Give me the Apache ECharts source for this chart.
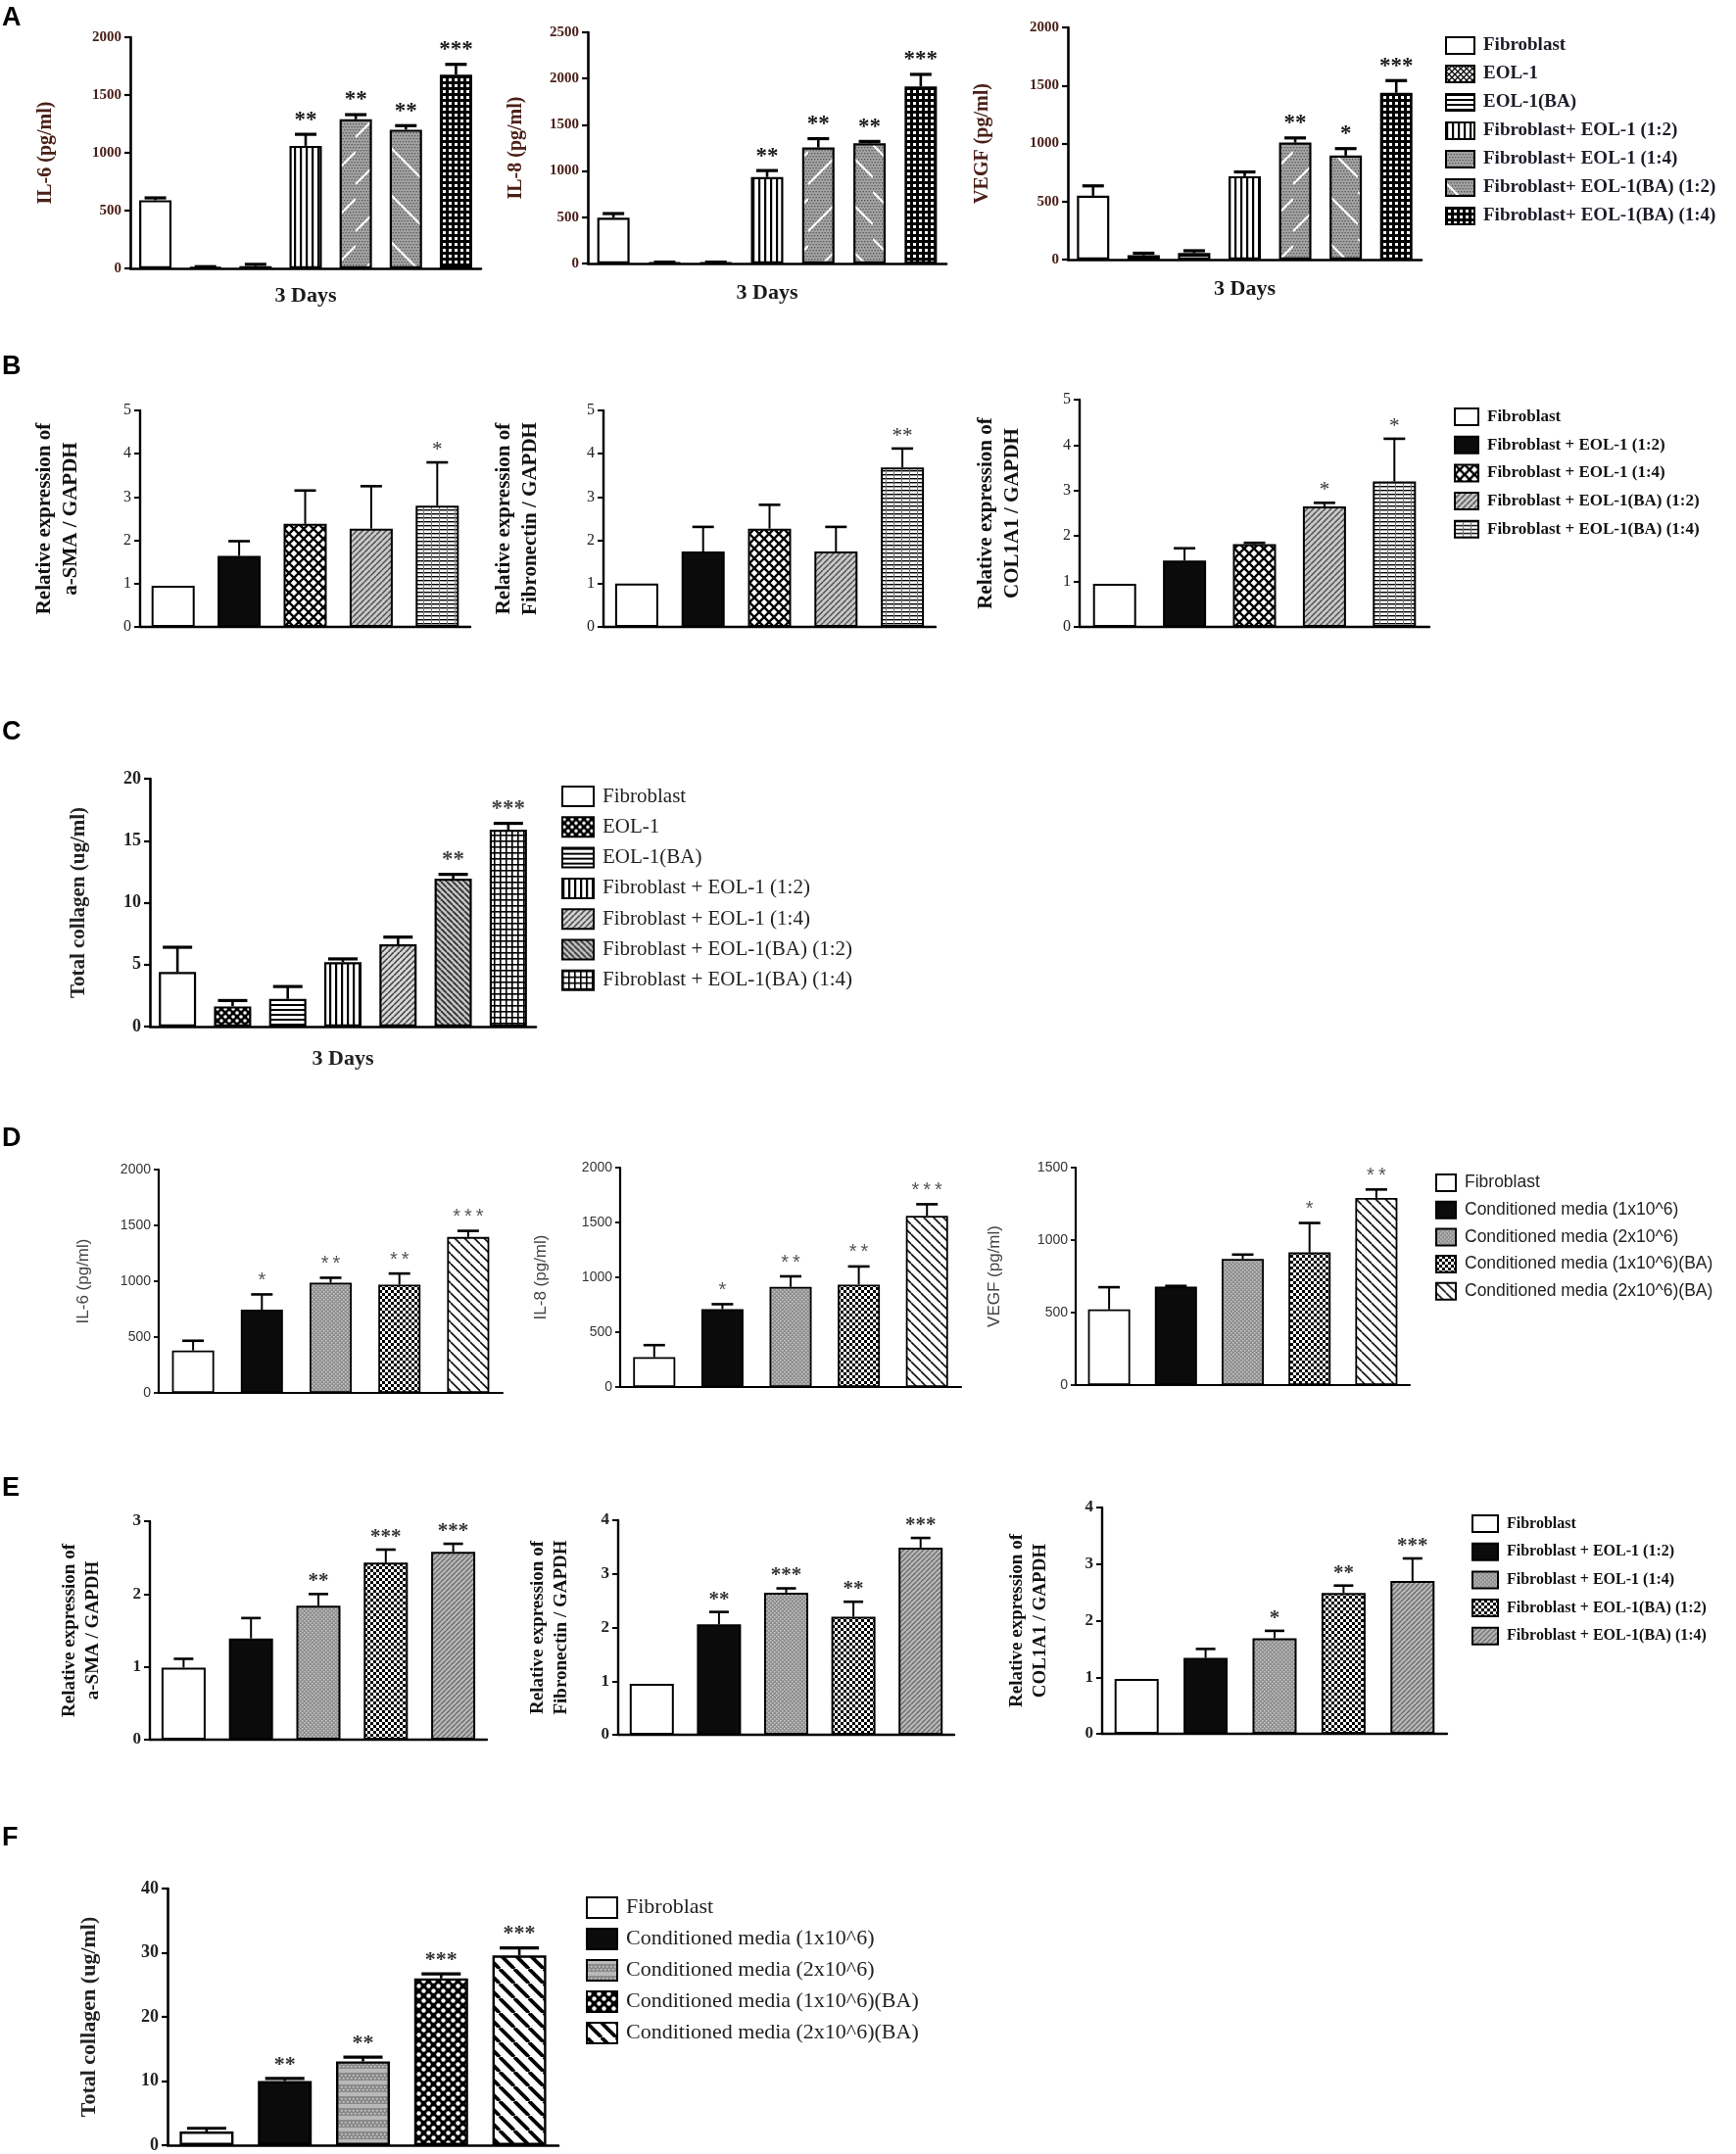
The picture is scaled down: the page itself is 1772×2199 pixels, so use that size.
<!DOCTYPE html>
<html>
<head>
<meta charset="utf-8">
<title>Cytokines, fibrosis markers and collagen</title>
<script src="https://cdn.jsdelivr.net/npm/echarts@6/dist/echarts.min.js"></script>
<style>
  html, body { margin: 0; padding: 0; background: #fff; }
  #chart { width: 1772px; height: 2199px; }
</style>
</head>
<body>
<div id="chart"></div>
<script>
// ---------- data ----------
const catsA = ['Fibroblast', 'EOL-1', 'EOL-1(BA)', 'Fibroblast+ EOL-1 (1:2)', 'Fibroblast+ EOL-1 (1:4)', 'Fibroblast+ EOL-1(BA) (1:2)', 'Fibroblast+ EOL-1(BA) (1:4)'];
const il6A = [590, 10, 20, 1060, 1290, 1200, 1675];
const il6AErr = [20, 5, 15, 100, 40, 35, 90];
const il6AStars = ['', '', '', '**', '**', '**', '***'];
const il8A = [495, 10, 10, 935, 1255, 1300, 1915];
const il8AErr = [45, 5, 5, 70, 95, 20, 130];
const il8AStars = ['', '', '', '**', '**', '**', '***'];
const vegfA = [550, 37, 56, 718, 1008, 896, 1437];
const vegfAErr = [85, 18, 20, 37, 40, 60, 105];
const vegfAStars = ['', '', '', '', '**', '*', '***'];

const catsB = ['Fibroblast', 'Fibroblast + EOL-1 (1:2)', 'Fibroblast + EOL-1 (1:4)', 'Fibroblast + EOL-1(BA) (1:2)', 'Fibroblast + EOL-1(BA) (1:4)'];
const smaB = [0.95, 1.64, 2.38, 2.27, 2.8];
const smaBErr = [0, 0.34, 0.77, 0.98, 1.0];
const smaBStars = ['', '', '', '', '*'];
const fnB = [1.0, 1.74, 2.27, 1.74, 3.68];
const fnBErr = [0, 0.57, 0.55, 0.57, 0.44];
const fnBStars = ['', '', '', '', '**'];
const colB = [0.95, 1.46, 1.82, 2.65, 3.2];
const colBErr = [0, 0.27, 0.03, 0.08, 0.94];
const colBStars = ['', '', '', '*', '*'];

const catsC = ['Fibroblast', 'EOL-1', 'EOL-1(BA)', 'Fibroblast + EOL-1 (1:2)', 'Fibroblast + EOL-1 (1:4)', 'Fibroblast + EOL-1(BA) (1:2)', 'Fibroblast + EOL-1(BA) (1:4)'];
const collagenC = [4.4, 1.63, 2.23, 5.2, 6.64, 11.94, 15.88];
const collagenCErr = [2.0, 0.47, 1.0, 0.26, 0.58, 0.34, 0.52];
const collagenCStars = ['', '', '', '', '', '**', '***'];

const catsD = ['Fibroblast', 'Conditioned media (1x10^6)', 'Conditioned media (2x10^6)', 'Conditioned media (1x10^6)(BA)', 'Conditioned media (2x10^6)(BA)'];
const il6D = [380, 745, 987, 969, 1396];
const il6DErr = [87, 137, 44, 100, 55];
const il6DStars = ['', '*', '**', '**', '***'];
const il8D = [272, 710, 913, 934, 1561];
const il8DErr = [110, 45, 96, 165, 105];
const il8DStars = ['', '*', '**', '**', '***'];
const vegfD = [522, 679, 870, 915, 1291];
const vegfDErr = [153, 5, 30, 203, 58];
const vegfDStars = ['', '', '', '*', '**'];

const catsE = ['Fibroblast', 'Fibroblast + EOL-1 (1:2)', 'Fibroblast + EOL-1 (1:4)', 'Fibroblast + EOL-1(BA) (1:2)', 'Fibroblast + EOL-1(BA) (1:4)'];
const smaE = [0.99, 1.39, 1.84, 2.43, 2.58];
const smaEErr = [0.12, 0.28, 0.16, 0.18, 0.11];
const smaEStars = ['', '', '**', '***', '***'];
const fnE = [0.95, 2.06, 2.65, 2.2, 3.49];
const fnEErr = [0, 0.23, 0.08, 0.28, 0.18];
const fnEStars = ['', '**', '***', '**', '***'];
const colE = [0.97, 1.34, 1.69, 2.49, 2.7];
const colEErr = [0, 0.16, 0.13, 0.13, 0.4];
const colEStars = ['', '', '*', '**', '***'];

const catsF = ['Fibroblast', 'Conditioned media (1x10^6)', 'Conditioned media (2x10^6)', 'Conditioned media (1x10^6)(BA)', 'Conditioned media (2x10^6)(BA)'];
const collagenF = [2.13, 10.0, 13.06, 26.0, 29.57];
const collagenFErr = [0.5, 0.4, 0.66, 0.7, 1.17];
const collagenFStars = ['', '**', '**', '***', '***'];

// ---------- fills ----------
const SERIF = '"Liberation Serif", "Times New Roman", Times, serif';
const SANS = '"Liberation Sans", Arial, Helvetica, sans-serif';
const NARROW = '"Liberation Sans Narrow", "Arial Narrow", "Liberation Sans", Arial, sans-serif';

function tile(w, h, draw) {
  const cv = document.createElement('canvas');
  cv.width = w;
  cv.height = h;
  draw(cv.getContext('2d'), w, h);
  return { image: cv, repeat: 'repeat' };
}

function diag(size, bg, fg, lw, dir) {
  return tile(size, size, (c, w) => {
    c.fillStyle = bg;
    c.fillRect(0, 0, w, w);
    c.strokeStyle = fg;
    c.lineWidth = lw;
    for (const o of [-w, 0, w]) {
      c.beginPath();
      if (dir > 0) { c.moveTo(o, w); c.lineTo(o + w, 0); }
      else { c.moveTo(o, 0); c.lineTo(o + w, w); }
      c.stroke();
    }
  });
}

function speckle(c, w, h, bg, dot, step) {
  c.fillStyle = bg;
  c.fillRect(0, 0, w, h);
  c.fillStyle = dot;
  for (let y = 0, r = 0; y < h; y += step, r++) {
    for (let x = r % 2 ? step / 2 : 0; x < w; x += step) c.fillRect(x, y, 1.3, 1.3);
  }
}

function lattice(size, lw) {
  return tile(size, size, (c, w) => {
    c.fillStyle = '#fff';
    c.fillRect(0, 0, w, w);
    c.strokeStyle = '#000';
    c.lineWidth = lw;
    c.beginPath();
    c.moveTo(0, 0); c.lineTo(w, w);
    c.moveTo(w, 0); c.lineTo(0, w);
    c.stroke();
  });
}

const fills = {
  white: '#ffffff',
  black: '#0b0b0b',
  xhatch: lattice(6, 1.3),
  diamond: lattice(10, 2.4),
  hlines: tile(4, 5, (c, w, h) => { c.fillStyle = '#fff'; c.fillRect(0, 0, w, h); c.fillStyle = '#000'; c.fillRect(0, 0, w, 2); }),
  vlines: tile(6, 4, (c, w, h) => { c.fillStyle = '#fff'; c.fillRect(0, 0, w, h); c.fillStyle = '#000'; c.fillRect(0, 0, 2.2, h); }),
  greySlash: tile(33, 48, (c, w, h) => {
    speckle(c, w, h, '#a3a3a3', '#555', 3);
    c.strokeStyle = '#fff'; c.lineWidth = 2;
    c.beginPath(); c.moveTo(0, h - 4); c.lineTo(w, h - 4 - w); c.stroke();
  }),
  greyBack: tile(33, 48, (c, w, h) => {
    speckle(c, w, h, '#a3a3a3', '#555', 3);
    c.strokeStyle = '#fff'; c.lineWidth = 2;
    c.beginPath(); c.moveTo(0, 4); c.lineTo(w, 4 + w); c.stroke();
  }),
  gridBlack: tile(6, 6, (c) => { c.fillStyle = '#000'; c.fillRect(0, 0, 6, 6); c.fillStyle = '#fff'; c.fillRect(2, 2, 3, 3); }),
  gridWhite: tile(6, 6, (c) => { c.fillStyle = '#fff'; c.fillRect(0, 0, 6, 6); c.fillStyle = '#000'; c.fillRect(0, 0, 6, 1.6); c.fillRect(0, 0, 1.6, 6); }),
  greyDiag: diag(6, '#c8c8c8', '#4d4d4d', 1.4, 1),
  hgrid: tile(8, 4, (c) => { c.fillStyle = '#fff'; c.fillRect(0, 0, 8, 4); c.fillStyle = '#000'; c.fillRect(0, 0, 8, 1.4); c.fillStyle = '#777'; c.fillRect(0, 0, 1, 4); }),
  dotsCheck: tile(8, 8, (c) => {
    c.fillStyle = '#000'; c.fillRect(0, 0, 8, 8);
    c.fillStyle = '#fff';
    c.beginPath(); c.arc(2, 2, 1.8, 0, 7); c.arc(6, 6, 1.8, 0, 7); c.fill();
  }),
  diagSlashGrey: diag(6, '#d6d6d6', '#3c3c3c', 1.5, 1),
  diagBackGrey: diag(6, '#c4c4c4', '#2e2e2e', 1.7, -1),
  greyDots: tile(4, 4, (c) => { c.fillStyle = '#8e8e8e'; c.fillRect(0, 0, 4, 4); c.fillStyle = '#c9c9c9'; c.fillRect(0, 0, 1.5, 1.5); c.fillRect(2, 2, 1.5, 1.5); }),
  checker: tile(6, 6, (c) => { c.fillStyle = '#fff'; c.fillRect(0, 0, 6, 6); c.fillStyle = '#000'; c.fillRect(0, 0, 3, 3); c.fillRect(3, 3, 3, 3); }),
  backLines: diag(10, '#fff', '#111', 1.6, -1),
  greyDiagDots: diag(5, '#b8b8b8', '#6a6a6a', 1.3, 1),
  greyBands: tile(4, 12, (c) => {
    c.fillStyle = '#8a8a8a'; c.fillRect(0, 0, 4, 12);
    c.fillStyle = '#b8b8b8'; c.fillRect(0, 0, 4, 4);
    c.fillStyle = '#d0d0d0'; c.fillRect(0, 6, 1.5, 1.5); c.fillRect(2, 9, 1.5, 1.5);
  }),
  checkerRound: tile(10, 10, (c) => {
    c.fillStyle = '#000'; c.fillRect(0, 0, 10, 10);
    c.fillStyle = '#fff';
    c.beginPath(); c.arc(2.5, 2.5, 2.2, 0, 7); c.fill();
    c.beginPath(); c.arc(7.5, 7.5, 2.2, 0, 7); c.fill();
  }),
  boldBack: diag(15, '#fff', '#000', 3.8, -1)
};

// ---------- per-panel looks ----------
const lookA = {
  patterns: ['white', 'xhatch', 'hlines', 'vlines', 'greySlash', 'greyBack', 'gridBlack'],
  barW: 33, border: 2.2, axisW: 2.6, yTick: 6, xTick: 9, capW: 22, errW: 2.6,
  tick: { fontFamily: SERIF, fontWeight: 'bold', fontSize: 15, color: '#4a2018' },
  name: { fontFamily: SERIF, fontWeight: 'bold', fontSize: 20, color: '#4a2018' },
  xname: { fontFamily: SERIF, fontWeight: 'bold', fontSize: 22, color: '#1a1a1a' },
  star: { size: 23, family: SERIF, weight: 'bold', color: '#1a1a1a', gap: 3 }
};
const lookB = {
  patterns: ['white', 'black', 'diamond', 'greyDiag', 'hgrid'],
  barW: 44, border: 2, axisW: 2.4, yTick: 6, xTick: 9, capW: 22, errW: 2,
  tick: { fontFamily: SERIF, fontSize: 16, color: '#222' },
  name: { fontFamily: SERIF, fontWeight: 'bold', fontSize: 21, lineHeight: 27, color: '#111' },
  star: { size: 21, family: SERIF, weight: 'normal', color: '#333', gap: 2 }
};
const lookC = {
  patterns: ['white', 'dotsCheck', 'hlines', 'vlines', 'diagSlashGrey', 'diagBackGrey', 'gridWhite'],
  barW: 38, border: 2.2, axisW: 2.6, yTick: 6, xTick: 9, capW: 30, errW: 2.6,
  tick: { fontFamily: SERIF, fontWeight: 'bold', fontSize: 18, color: '#222' },
  name: { fontFamily: SERIF, fontWeight: 'bold', fontSize: 21, color: '#222' },
  xname: { fontFamily: SERIF, fontWeight: 'bold', fontSize: 22, color: '#222' },
  star: { size: 23, family: SERIF, weight: 'bold', color: '#444', gap: 3 }
};
const lookD = {
  patterns: ['white', 'black', 'greyDots', 'checker', 'backLines'],
  barW: 43, border: 1.8, axisW: 2.2, yTick: 5, xTick: 8, capW: 22, errW: 2,
  tick: { fontFamily: NARROW, fontSize: 14, color: '#333' },
  name: { fontFamily: SANS, fontSize: 17, color: '#444' },
  star: { size: 20, family: SANS, weight: 'normal', color: '#555', gap: 4, spaced: true }
};
const lookE = {
  patterns: ['white', 'black', 'greyDots', 'checker', 'greyDiagDots'],
  barW: 45, border: 2, axisW: 2.4, yTick: 6, xTick: 9, capW: 20, errW: 2,
  tick: { fontFamily: SERIF, fontWeight: 'bold', fontSize: 17, color: '#222' },
  name: { fontFamily: SERIF, fontWeight: 'bold', fontSize: 19, lineHeight: 24, color: '#111' },
  star: { size: 21, family: SERIF, weight: 'bold', color: '#333', gap: 2 }
};
const lookF = {
  patterns: ['white', 'black', 'greyBands', 'checkerRound', 'boldBack'],
  barW: 55, border: 2.4, axisW: 2.6, yTick: 6, xTick: 9, capW: 40, errW: 2.6,
  tick: { fontFamily: SERIF, fontWeight: 'bold', fontSize: 18, color: '#222' },
  name: { fontFamily: SERIF, fontWeight: 'bold', fontSize: 22, color: '#222' },
  star: { size: 22, family: SERIF, weight: 'bold', color: '#333', gap: 3 }
};

const charts = [
  { panel: 'A', look: lookA, left: 133, top: 38, width: 358, height: 236, max: 2000, interval: 500, cats: catsA, values: il6A, errs: il6AErr, stars: il6AStars, yName: 'IL-6 (pg/ml)', yGap: 76, xName: '3 Days', xGap: 17 },
  { panel: 'A', look: lookA, left: 600, top: 33, width: 366, height: 236, max: 2500, interval: 500, cats: catsA, values: il8A, errs: il8AErr, stars: il8AStars, yName: 'IL-8 (pg/ml)', yGap: 63, xName: '3 Days', xGap: 19 },
  { panel: 'A', look: lookA, left: 1090, top: 28, width: 361, height: 237, max: 2000, interval: 500, cats: catsA, values: vegfA, errs: vegfAErr, stars: vegfAStars, yName: 'VEGF (pg/ml)', yGap: 77, xName: '3 Days', xGap: 19 },
  { panel: 'B', look: lookB, left: 143, top: 419, width: 337, height: 221, max: 5, interval: 1, cats: catsB, values: smaB, errs: smaBErr, stars: smaBStars, yName: 'Relative expression of\na-SMA / GAPDH', yGap: 57 },
  { panel: 'B', look: lookB, left: 616, top: 419, width: 339, height: 221, max: 5, interval: 1, cats: catsB, values: fnB, errs: fnBErr, stars: fnBStars, yName: 'Relative expression of\nFibronectin / GAPDH', yGap: 61 },
  { panel: 'B', look: lookB, left: 1102, top: 408, width: 357, height: 232, max: 5, interval: 1, cats: catsB, values: colB, errs: colBErr, stars: colBStars, yName: 'Relative expression of\nCOL1A1 / GAPDH', yGap: 55 },
  { panel: 'C', look: lookC, left: 153, top: 795, width: 394, height: 253, max: 20, interval: 5, cats: catsC, values: collagenC, errs: collagenCErr, stars: collagenCStars, yName: 'Total collagen (ug/ml)', yGap: 62, xName: '3 Days', xGap: 22 },
  { panel: 'D', look: lookD, left: 162, top: 1194, width: 351, height: 228, max: 2000, interval: 500, cats: catsD, values: il6D, errs: il6DErr, stars: il6DStars, yName: 'IL-6 (pg/ml)', yGap: 68 },
  { panel: 'D', look: lookD, left: 633, top: 1192, width: 348, height: 224, max: 2000, interval: 500, cats: catsD, values: il8D, errs: il8DErr, stars: il8DStars, yName: 'IL-8 (pg/ml)', yGap: 72 },
  { panel: 'D', look: lookD, left: 1098, top: 1192, width: 341, height: 222, max: 1500, interval: 500, cats: catsD, values: vegfD, errs: vegfDErr, stars: vegfDStars, yName: 'VEGF (pg/ml)', yGap: 74 },
  { panel: 'E', look: lookE, left: 153, top: 1553, width: 344, height: 223, max: 3, interval: 1, cats: catsE, values: smaE, errs: smaEErr, stars: smaEStars, yName: 'Relative expression of\na-SMA / GAPDH', yGap: 46 },
  { panel: 'E', look: lookE, left: 631, top: 1552, width: 343, height: 219, max: 4, interval: 1, cats: catsE, values: fnE, errs: fnEErr, stars: fnEStars, yName: 'Relative expression of\nFibronectin / GAPDH', yGap: 46 },
  { panel: 'E', look: lookE, left: 1125, top: 1539, width: 352, height: 231, max: 4, interval: 1, cats: catsE, values: colE, errs: colEErr, stars: colEStars, yName: 'Relative expression of\nCOL1A1 / GAPDH', yGap: 51 },
  { panel: 'F', look: lookF, left: 171, top: 1928, width: 399, height: 263, max: 40, interval: 10, cats: catsF, values: collagenF, errs: collagenFErr, stars: collagenFStars, yName: 'Total collagen (ug/ml)', yGap: 69 }
];

const legends = [
  { panel: 'A', cats: catsA, left: 1475, top: 37, iw: 29, ih: 17, gap: 10, text: { fontFamily: SERIF, fontWeight: 'bold', fontSize: 19, color: '#1e1a28' } },
  { panel: 'B', cats: catsB, left: 1484, top: 416, iw: 24, ih: 17, gap: 9.7, text: { fontFamily: SERIF, fontWeight: 'bold', fontSize: 17, color: '#111' } },
  { panel: 'C', cats: catsC, left: 573, top: 802, iw: 32, ih: 20, gap: 9.3, text: { fontFamily: SERIF, fontSize: 21, color: '#222' } },
  { panel: 'D', cats: catsD, left: 1465, top: 1198, iw: 20, ih: 17, gap: 8.7, text: { fontFamily: NARROW, fontSize: 17.5, color: '#222' } },
  { panel: 'E', cats: catsE, left: 1502, top: 1546, iw: 26, ih: 17, gap: 9.7, text: { fontFamily: SERIF, fontWeight: 'bold', fontSize: 16, color: '#111' } },
  { panel: 'F', cats: catsF, left: 598, top: 1936, iw: 31, ih: 21, gap: 9, text: { fontFamily: SERIF, fontSize: 22, color: '#222' } }
];

const letters = [['A', 5], ['B', 361], ['C', 734], ['D', 1149], ['E', 1506], ['F', 1863]];

// ---------- build option ----------
const option = {
  animation: false,
  backgroundColor: '#fff',
  textStyle: { fontFamily: SERIF },
  title: letters.map(([t, y]) => ({
    text: t, left: 2, top: y, padding: 0,
    textStyle: { fontFamily: SANS, fontWeight: 'bold', fontSize: 27, color: '#000' }
  })),
  grid: [], xAxis: [], yAxis: [], legend: [], series: []
};

function addChart(c) {
  const k = option.grid.length;
  const L = c.look;
  option.grid.push({ left: c.left, top: c.top, width: c.width, height: c.height });
  option.xAxis.push({
    type: 'category', gridIndex: k, data: c.cats.map((_, i) => 'c' + i),
    axisLine: { lineStyle: { color: '#000', width: L.axisW } },
    axisTick: { alignWithLabel: true, length: L.xTick, lineStyle: { color: '#000', width: L.axisW - 0.4 } },
    axisLabel: { show: false },
    name: c.xName || '', nameLocation: 'middle', nameGap: c.xGap || 20,
    nameTextStyle: L.xname || {}
  });
  option.yAxis.push({
    type: 'value', gridIndex: k, min: 0, max: c.max, interval: c.interval,
    splitLine: { show: false },
    axisLine: { show: true, lineStyle: { color: '#000', width: L.axisW } },
    axisTick: { show: true, length: L.yTick, lineStyle: { color: '#000', width: L.axisW - 0.4 } },
    axisLabel: Object.assign({ margin: L.yTick + 3, formatter: v => String(v) }, L.tick),
    name: c.yName, nameLocation: 'middle', nameRotate: 90, nameGap: c.yGap,
    nameTextStyle: L.name
  });
  // one series per group so that each group gets its own legend entry
  c.cats.forEach((cat, i) => {
    option.series.push({
      type: 'bar', name: c.panel + '|' + cat, xAxisIndex: k, yAxisIndex: k,
      stack: 'g' + k, barWidth: L.barW, silent: true,
      data: c.cats.map((_, j) => (j === i ? c.values[i] : '-')),
      itemStyle: { color: fills[L.patterns[i]], borderColor: '#000', borderWidth: L.border }
    });
  });
  // error bars (upper only) and significance stars
  option.series.push({
    type: 'custom', xAxisIndex: k, yAxisIndex: k, z: 10, silent: true, clip: false,
    data: c.values.map((v, i) => [i, v, c.errs[i]]),
    renderItem: (params, api) => {
      const mid = api.coord([api.value(0), api.value(1)]);
      const top = api.coord([api.value(0), api.value(1) + api.value(2)]);
      const kids = [];
      if (api.value(2) > 0) {
        kids.push({ type: 'line', shape: { x1: mid[0], y1: mid[1], x2: top[0], y2: top[1] }, style: { stroke: '#000', lineWidth: L.errW } });
        kids.push({ type: 'line', shape: { x1: top[0] - L.capW / 2, y1: top[1], x2: top[0] + L.capW / 2, y2: top[1] }, style: { stroke: '#000', lineWidth: L.errW + 0.6 } });
      }
      let s = c.stars[params.dataIndex];
      if (s) {
        if (L.star.spaced) s = s.split('').join('\u2009');
        kids.push({
          type: 'text', x: top[0], y: top[1] - L.star.gap,
          style: { text: s, align: 'center', verticalAlign: 'bottom', fontSize: L.star.size, fontFamily: L.star.family, fontWeight: L.star.weight, fill: L.star.color }
        });
      }
      return { type: 'group', children: kids };
    }
  });
}

charts.forEach(addChart);

legends.forEach(g => {
  option.legend.push({
    orient: 'vertical', left: g.left, top: g.top, padding: 0, icon: 'rect',
    itemWidth: g.iw, itemHeight: g.ih, itemGap: g.gap, selectedMode: false,
    data: g.cats.map(n => g.panel + '|' + n),
    formatter: n => n.slice(n.indexOf('|') + 1),
    textStyle: Object.assign({ lineHeight: g.ih, padding: [0, 0, 0, 4] }, g.text)
  });
});

const myChart = echarts.init(document.getElementById('chart'));
myChart.setOption(option);
</script>
</body>
</html>
